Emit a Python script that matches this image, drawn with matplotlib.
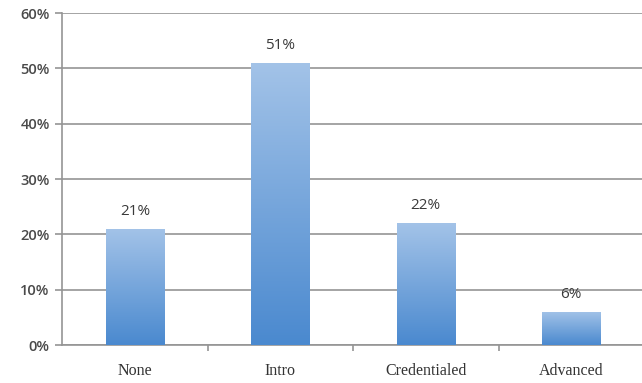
import numpy as np
import matplotlib.pyplot as plt
from matplotlib.colors import LinearSegmentedColormap
from matplotlib.ticker import FuncFormatter

# share of respondents at each level
levels = ["None", "Intro", "Credentialed", "Advanced"]
shares = [21, 51, 22, 6]
y_ticks = [0, 10, 20, 30, 40, 50, 60]

fig = plt.figure(figsize=(6.42, 3.83), dpi=100)
ax = fig.add_axes([0.097, 0.099, 0.906, 0.867])

x = np.arange(len(levels))
bar_width = 0.4
bars = ax.bar(x, shares, width=bar_width, color="none", edgecolor="none", zorder=3)

# vertical gradient fill, light at the top, deeper blue at the bottom
grad_cmap = LinearSegmentedColormap.from_list("bar_grad", ["#4a89cf", "#a3c3e8"])
gradient = np.linspace(0, 1, 256).reshape(-1, 1)
for bar in bars:
    x0, y0 = bar.get_x(), bar.get_y()
    w, h = bar.get_width(), bar.get_height()
    img = ax.imshow(gradient, extent=[x0, x0 + w, y0, y0 + h], origin="lower",
                    aspect="auto", cmap=grad_cmap, zorder=3)
    img.set_clip_path(bar)

for xi, val in zip(x, shares):
    ax.text(xi, val + 1.8, f"{val}%", ha="center", va="bottom",
            fontsize=11, color="#3a3a3a", family="Open Sans")

ax.set_xlim(-0.5, len(levels) - 0.5)
ax.set_ylim(0, 60)
ax.set_yticks(y_ticks)
ax.yaxis.set_major_formatter(FuncFormatter(lambda v, _: f"{v:.0f}%"))
ax.set_xticks(x)
ax.set_xticklabels(levels, family="Liberation Serif", fontsize=11.5, color="#333333")
ax.set_xticks(np.arange(0.5, len(levels) - 0.5, 1), minor=True)

ax.grid(axis="y", color="#959595", linewidth=1.2, zorder=1)
ax.set_axisbelow(True)
for side in ("top", "right"):
    ax.spines[side].set_visible(False)
for side in ("left", "bottom"):
    ax.spines[side].set_color("#959595")
    ax.spines[side].set_linewidth(1.2)

ax.tick_params(axis="y", length=5, width=1.2, color="#959595", labelsize=10.5,
               labelcolor="#4a4a4a", pad=4)
for lab in ax.get_yticklabels():
    lab.set_family("Open Sans")
    lab.set_fontweight("semibold")
ax.tick_params(axis="x", which="major", length=0, pad=13)
ax.tick_params(axis="x", which="minor", length=4, width=1.2, color="#959595")

fig.savefig("out.png", dpi=100)
